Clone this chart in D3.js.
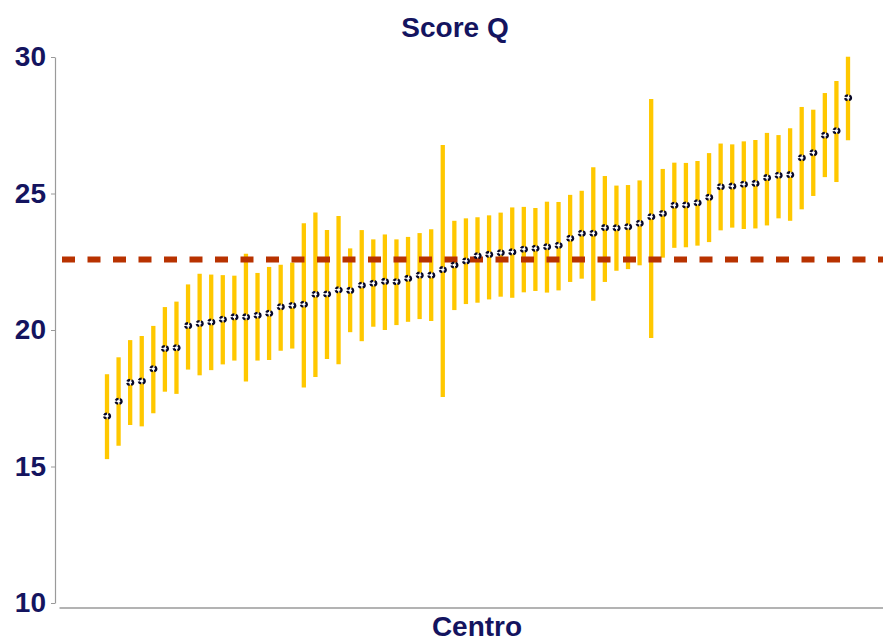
<!DOCTYPE html>
<html>
<head>
<meta charset="utf-8">
<script src="https://cdn.jsdelivr.net/npm/d3@7"></script>
<style>
  html, body { margin: 0; padding: 0; background: #fff; }
  svg { display: block; }
</style>
</head>
<body>
<svg id="chart" width="883" height="641"></svg>
<script>
// Mean score Q per centre with its confidence interval, sorted by mean
const means = [
  16.85, 17.39, 18.08, 18.13, 18.58, 19.32, 19.35, 20.16, 20.24, 20.29,
  20.39, 20.48, 20.48, 20.54, 20.61, 20.85, 20.90, 20.94, 21.31, 21.32,
  21.47, 21.45, 21.64, 21.71, 21.78, 21.77, 21.89, 22.01, 22.01, 22.21,
  22.38, 22.53, 22.72, 22.77, 22.83, 22.86, 22.96, 22.99, 23.05, 23.10,
  23.36, 23.54, 23.54, 23.75, 23.74, 23.78, 23.91, 24.15, 24.27, 24.57,
  24.58, 24.66, 24.86, 25.25, 25.27, 25.34, 25.37, 25.58, 25.67, 25.69,
  26.31, 26.49, 27.13, 27.30, 28.51
];
const lower = [
  15.27, 15.76, 16.52, 16.47, 16.95, 17.74, 17.66, 18.55, 18.34, 18.53,
  18.74, 18.88, 18.11, 18.88, 18.90, 19.24, 19.32, 17.89, 18.28, 18.94,
  18.75, 19.92, 19.59, 20.12, 20.00, 20.18, 20.30, 20.40, 20.33, 17.55,
  20.73, 20.95, 21.00, 21.12, 21.22, 21.18, 21.38, 21.43, 21.37, 21.45,
  21.76, 21.88, 21.07, 21.76, 22.17, 22.23, 22.37, 19.71, 22.65, 23.01,
  23.03, 23.09, 23.22, 23.65, 23.75, 23.70, 23.72, 23.83, 24.09, 24.00,
  24.42, 24.91, 25.60, 25.42, 26.95
];
const upper = [
  18.38, 19.00, 19.63, 19.78, 20.15, 20.84, 21.04, 21.67, 22.06, 22.03,
  22.01, 21.99, 22.79, 22.09, 22.31, 22.39, 22.47, 23.91, 24.30, 23.66,
  24.18, 22.99, 23.66, 23.32, 23.50, 23.32, 23.41, 23.55, 23.69, 26.78,
  24.00, 24.09, 24.13, 24.20, 24.30, 24.49, 24.51, 24.47, 24.70, 24.69,
  24.95, 25.10, 25.96, 25.64, 25.29, 25.31, 25.48, 28.46, 25.90, 26.13,
  26.12, 26.19, 26.48, 26.83, 26.80, 26.91, 26.96, 27.22, 27.14, 27.39,
  28.17, 28.07, 28.68, 29.12, 30.01
];
const centres = means.map((_, i) => "C" + (i + 1));
const overallMean = 22.58;
const yTicks = [10, 15, 20, 25, 30];

const navy = "#14145f";
const font = "'Liberation Sans', Arial, sans-serif";

const svg = d3.select("#chart");

const x = d3.scalePoint().domain(centres).range([107, 848]);
const y = d3.scaleLinear().domain([10, 30]).range([603, 57]);

// Title
svg.append("text")
  .attr("x", 455).attr("y", 37)
  .attr("text-anchor", "middle")
  .attr("font-family", font).attr("font-weight", "bold")
  .attr("font-size", 28).attr("fill", navy)
  .text("Score Q");

// Y axis
const yAxis = svg.append("g")
  .attr("transform", "translate(55,0)")
  .call(d3.axisLeft(y).tickValues(yTicks).tickSize(4).tickSizeOuter(0).tickPadding(5));
yAxis.select(".domain").attr("stroke", "#9a9a9a").attr("stroke-width", 1.2);
yAxis.selectAll(".tick line").attr("stroke", "#9a9a9a");
yAxis.selectAll(".tick text")
  .attr("font-family", font).attr("font-weight", "bold")
  .attr("font-size", 28).attr("fill", navy);

// X axis baseline (no tick labels)
const xAxis = svg.append("g")
  .attr("transform", "translate(0,607.5)")
  .call(d3.axisBottom(d3.scaleLinear().range([59, 883])).tickValues([]).tickSizeOuter(0));
xAxis.select(".domain").attr("stroke", "#9a9a9a").attr("stroke-width", 1.5);

svg.append("text")
  .attr("x", 477).attr("y", 636)
  .attr("text-anchor", "middle")
  .attr("font-family", font).attr("font-weight", "bold")
  .attr("font-size", 28).attr("fill", navy)
  .text("Centro");

// Confidence intervals
svg.append("g").selectAll("line")
  .data(centres)
  .join("line")
  .attr("x1", d => x(d)).attr("x2", d => x(d))
  .attr("y1", (d, i) => y(lower[i]))
  .attr("y2", (d, i) => y(upper[i]))
  .attr("stroke", "#ffc800")
  .attr("stroke-width", 4.3);

// Overall mean reference line
svg.append("line")
  .attr("x1", 62).attr("x2", 883)
  .attr("y1", y(overallMean)).attr("y2", y(overallMean))
  .attr("stroke", "#b83200")
  .attr("stroke-width", 6)
  .attr("stroke-dasharray", "13,12.5");

// Centre means
svg.append("g").selectAll("ellipse")
  .data(centres)
  .join("ellipse")
  .attr("cx", d => x(d))
  .attr("cy", (d, i) => y(means[i]))
  .attr("rx", 3).attr("ry", 2.4)
  .attr("fill", "#ffffff")
  .attr("stroke", "#080828")
  .attr("stroke-width", 2.3)
  .attr("stroke-dasharray", "3.2,1.4");
</script>
</body>
</html>
